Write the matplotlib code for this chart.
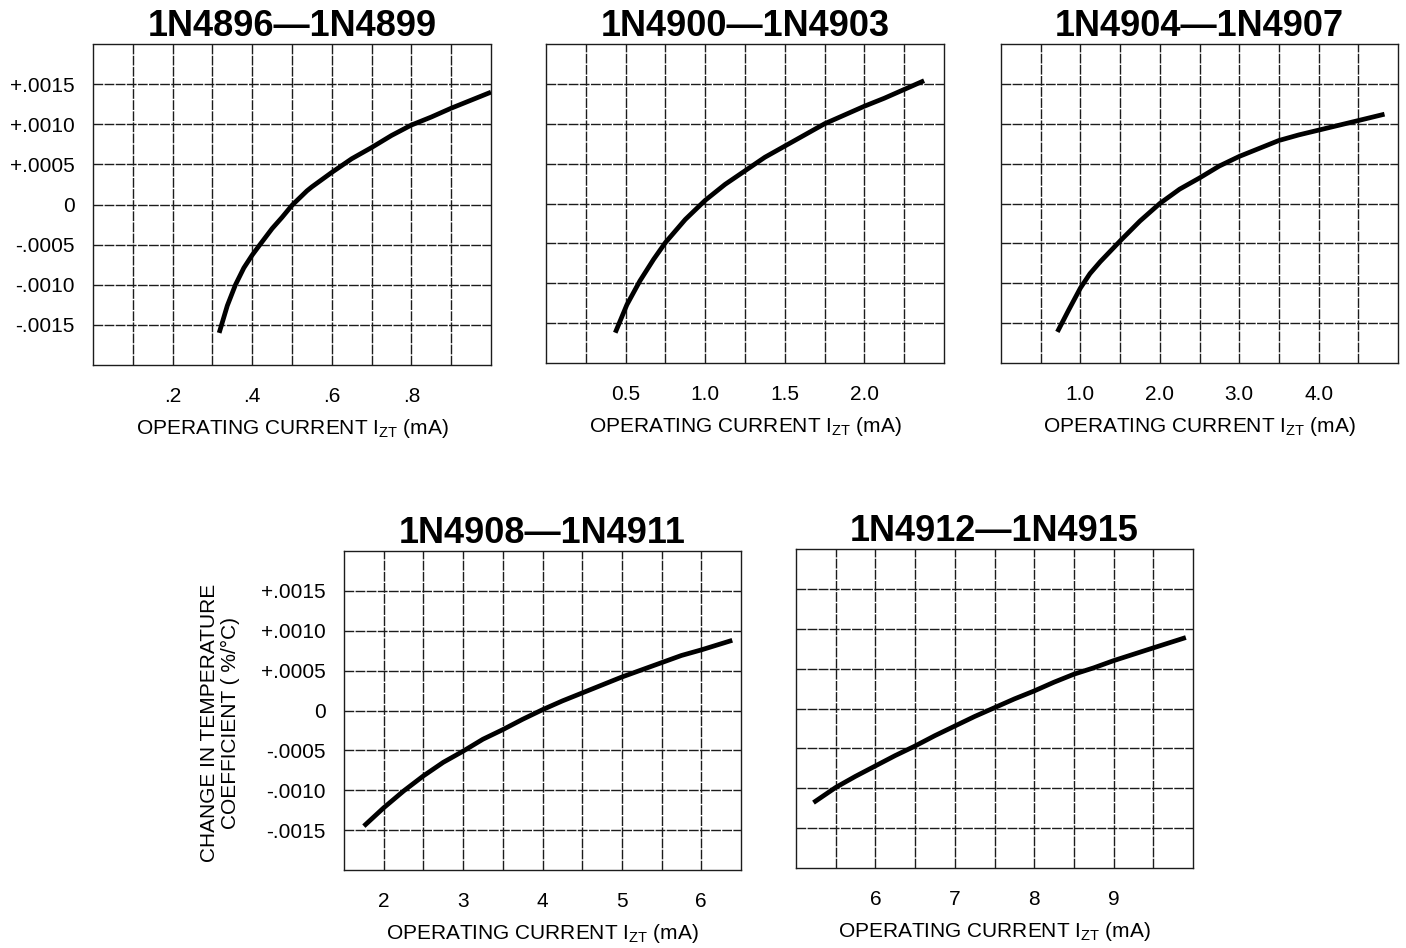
import numpy as np
import matplotlib
matplotlib.use("Agg")
import matplotlib.pyplot as plt

plt.rcParams['font.family'] = ['Liberation Sans', 'DejaVu Sans']
plt.rcParams['mathtext.fontset'] = 'custom'
plt.rcParams['mathtext.rm'] = 'Liberation Sans'

# --- data (I_ZT in mA, change in temp. coeff. in %/C) ---
titles = ["1N4896\u20141N4899", "1N4900\u20141N4903", "1N4904\u20141N4907",
          "1N4908\u20141N4911", "1N4912\u20141N4915"]

x1 = [0.317, 0.3375, 0.358, 0.379, 0.40, 0.421, 0.45, 0.475, 0.50, 0.5375, 0.55, 0.60,
      0.65, 0.70, 0.75, 0.80, 0.85, 0.90, 0.95, 1.0]
y1 = [-0.0016, -0.00126, -0.001, -0.00079, -0.00063, -0.00049, -0.0003, -0.00016, -0.00001,
      0.00017, 0.00022, 0.0004, 0.00057, 0.00071, 0.00086, 0.00099, 0.00109, 0.0012,
      0.0013, 0.0014]

x2 = [0.435, 0.508, 0.59, 0.676, 0.75, 0.875, 1.0, 1.125, 1.25, 1.375, 1.5, 1.625, 1.75,
      1.875, 2.0, 2.125, 2.25, 2.375]
y2 = [-0.00162, -0.00127, -0.00097, -0.0007, -0.00049, -0.0002, 0.00004, 0.00024, 0.00041,
      0.00058, 0.00072, 0.00086, 0.001, 0.00111, 0.00122, 0.00132, 0.00143, 0.00154]

x3 = [0.71, 0.85, 1.0, 1.12, 1.25, 1.5, 1.75, 2.0, 2.25, 2.5, 2.75, 3.0, 3.25, 3.5, 3.75,
      4.0, 4.25, 4.5, 4.83]
y3 = [-0.00161, -0.00134, -0.00106, -0.00088, -0.00073, -0.00047, -0.00022, 0.0, 0.00018,
      0.00032, 0.00047, 0.00059, 0.00069, 0.00079, 0.00086, 0.00092, 0.00098, 0.00104,
      0.00112]

x4 = [1.75, 2.0, 2.25, 2.5, 2.75, 3.0, 3.25, 3.5, 3.75, 4.0, 4.25, 4.5, 4.75, 5.0, 5.25,
      5.5, 5.75, 6.0, 6.39]
y4 = [-0.00145, -0.00122, -0.00101, -0.00082, -0.00065, -0.00051, -0.00036, -0.00024,
      -0.00011, 0.00001, 0.00012, 0.00022, 0.00032, 0.00042, 0.00051, 0.0006, 0.00069,
      0.00076, 0.00088]

x5 = [5.22, 5.5, 5.75, 6.0, 6.25, 6.5, 6.75, 7.0, 7.25, 7.5, 7.75, 8.0, 8.25, 8.5, 8.75,
      9.0, 9.25, 9.5, 9.91]
y5 = [-0.00118, -0.00099, -0.00085, -0.00072, -0.00059, -0.00047, -0.00034, -0.00022,
      -0.0001, 0.00001, 0.00012, 0.00022, 0.00033, 0.00043, 0.00051, 0.0006, 0.00068,
      0.00076, 0.00089]

xticks1 = [0.2, 0.4, 0.6, 0.8]
xlabels1 = [".2", ".4", ".6", ".8"]
xticks2 = [0.5, 1.0, 1.5, 2.0]
xlabels2 = ["0.5", "1.0", "1.5", "2.0"]
xticks3 = [1.0, 2.0, 3.0, 4.0]
xlabels3 = ["1.0", "2.0", "3.0", "4.0"]
xticks4 = [2, 3, 4, 5, 6]
xlabels4 = ["2", "3", "4", "5", "6"]
xticks5 = [6, 7, 8, 9]
xlabels5 = ["6", "7", "8", "9"]

yticks = [0.0015, 0.0010, 0.0005, 0.0, -0.0005, -0.0010, -0.0015]
ylabels = ["+.0015", "+.0010", "+.0005", "0", "-.0005", "-.0010", "-.0015"]

# x range and grid step of each panel
xlims = [(0.0, 1.0), (0.0, 2.5), (0.0, 5.0), (1.5, 6.5), (5.0, 10.0)]
xsteps = [0.1, 0.25, 0.5, 0.5, 0.5]

W, H = 1406, 948
fig = plt.figure(figsize=(W / 100, H / 100), dpi=100)

# axes boxes in pixels: left, top, right, bottom
boxes = [(93, 44, 491, 365), (546, 44, 944, 363), (1001, 44, 1398, 363),
         (344, 551, 741, 870), (796, 549, 1193, 868)]

xs = [x1, x2, x3, x4, x5]
ys = [y1, y2, y3, y4, y5]
xt = [xticks1, xticks2, xticks3, xticks4, xticks5]
xl = [xlabels1, xlabels2, xlabels3, xlabels4, xlabels5]

grid_kw = dict(color='#1c1c1c', lw=1.0, ls=(0, (7, 1)), zorder=1)

for i in range(5):
    l, t, r, b = boxes[i]
    ax = fig.add_axes([l / W, 1 - b / H, (r - l) / W, (b - t) / H])
    x0, x1_ = xlims[i]
    ax.set_xlim(x0, x1_)
    ax.set_ylim(-0.002, 0.002)

    # grid
    for gx in np.arange(x0 + xsteps[i], x1_ - 1e-9, xsteps[i]):
        ax.axvline(gx, **grid_kw)
    for gy in yticks:
        ax.axhline(gy, **grid_kw)
    for s in ax.spines.values():
        s.set_color('#1c1c1c')
        s.set_linewidth(1.0)
        s.set_linestyle((0, (7, 1)))

    ax.plot(xs[i], ys[i], color='black', lw=3.4, solid_capstyle='butt',
            solid_joinstyle='round', zorder=3)

    ax.set_xticks(xt[i])
    ax.set_xticklabels(xl[i], fontsize=15)
    ax.tick_params(axis='x', length=0, pad=16)
    ax.set_yticks(yticks)
    if i in (0, 3):
        ax.set_yticklabels(ylabels, fontsize=15)
    else:
        ax.set_yticklabels([])
    ax.tick_params(axis='y', length=0, pad=13)

    ax.set_title(titles[i], fontsize=26, fontweight='bold', pad=5)
    ax.set_xlabel(r"OPERATING CURRENT I$_{\mathregular{ZT}}$ (mA)", fontsize=15, labelpad=8)

    if i == 3:
        ax.set_ylabel("CHANGE IN TEMPERATURE\nCOEFFICIENT ( %/\u00b0C)", fontsize=15,
                      linespacing=1.15)
        ax.yaxis.set_label_coords(-0.262, 0.46)

fig.savefig("out.png", dpi=100, facecolor='white')
